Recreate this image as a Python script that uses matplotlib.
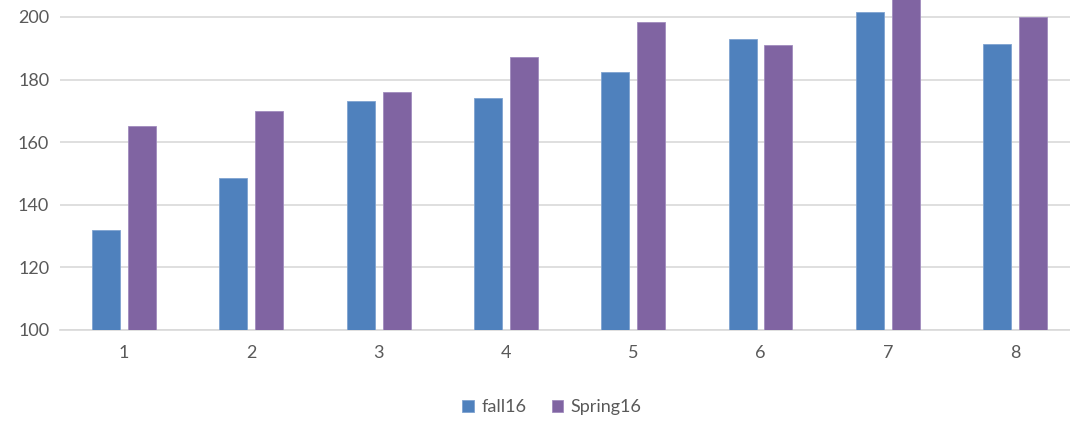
from matplotlib import pyplot as plt
import numpy as np

categories = ['1', '2', '3', '4', '5', '6', '7', '8']
fall16 = [132, 148.5, 173, 174, 182.5, 193, 201.5, 191.5]
spring16 = [165.3, 170, 176, 187.2, 198.5, 191, 210, 200]

plt.rcParams['font.family'] = ['Lato', 'DejaVu Sans']

fig = plt.figure(figsize=(10.70, 4.21), dpi=100)
ax = fig.add_axes([60.3 / 1070, 1 - 330 / 421, 1018.5 / 1070, 330 / 421])

x = np.arange(len(categories))
w = 0.22
off = 0.141
ax.bar(x - off, fall16, w, color='#4F81BD', edgecolor='#7FA3D0', linewidth=0.6, label='fall16', zorder=3)
ax.bar(x + off, spring16, w, color='#8064A2', edgecolor='#A08BBE', linewidth=0.6, label='Spring16', zorder=3)

ax.set_xlim(-0.5, len(categories) - 0.5)
ax.set_ylim(100, 205.4)
ax.set_yticks(np.arange(100, 201, 20))
ax.set_xticks(x)
ax.set_xticklabels(categories)
ax.yaxis.grid(True, color='#D9D9D9', linewidth=1.2, zorder=0)
for s in ['top', 'right', 'left']:
    ax.spines[s].set_visible(False)
ax.spines['bottom'].set_color('#D9D9D9')
ax.spines['bottom'].set_linewidth(1.2)
ax.tick_params(length=0, labelsize=13, colors='#595959')
ax.tick_params(axis='x', pad=11)
ax.tick_params(axis='y', pad=8)

fig.legend(loc='center', bbox_to_anchor=(552 / 1070, 1 - 407 / 421), ncol=2, frameon=False,
           fontsize=13, labelcolor='#595959', handlelength=0.65, handleheight=0.65,
           handletextpad=0.4, columnspacing=1.4)

fig.savefig('out.png', dpi=100)
